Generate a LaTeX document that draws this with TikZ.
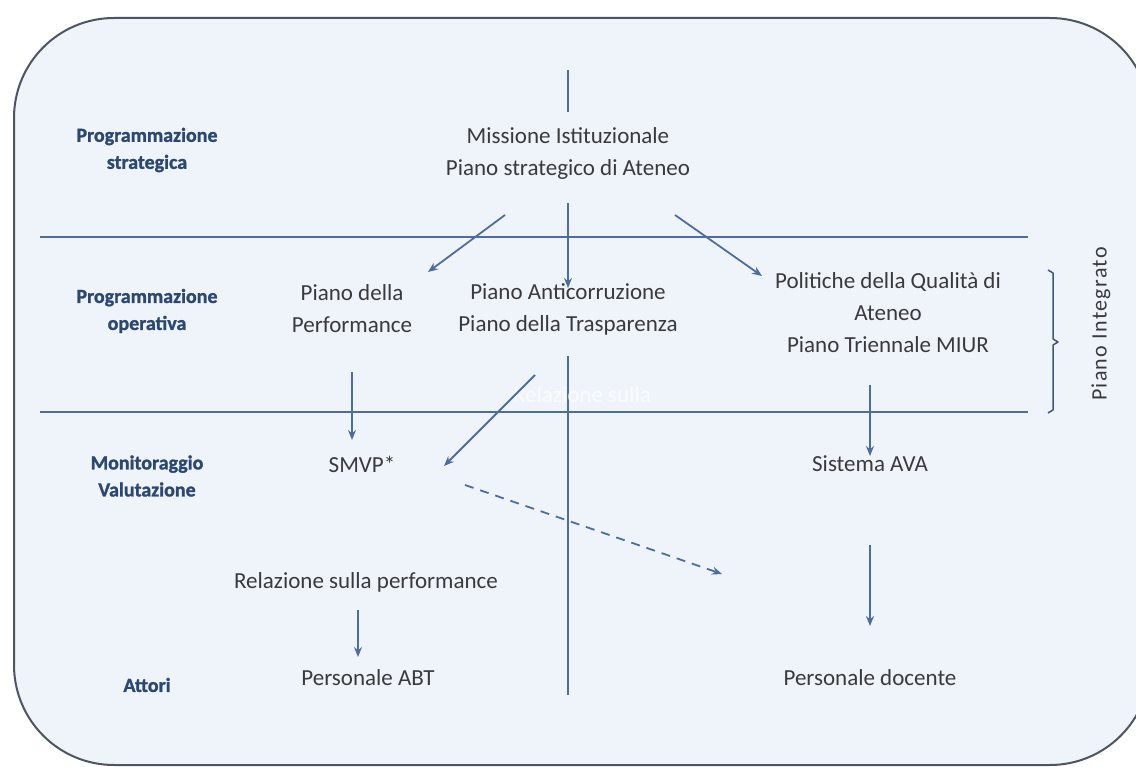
\documentclass[tikz,border=0pt]{standalone}
\usepackage{fontspec}
\setmainfont{Carlito}
\newfontfamily\spacedfont[LetterSpace=6]{Carlito}
\newfontfamily\lblfont[FakeBold=1.2]{Carlito}
\usetikzlibrary{arrows.meta}
\definecolor{framecol}{HTML}{4D5563}
\definecolor{bgfill}{HTML}{EFF4FB}
\definecolor{lineblue}{HTML}{4F6D9C}
\definecolor{txtcol}{HTML}{3A3A3A}
\definecolor{lblcol}{HTML}{2C4770}
\begin{document}
\begin{tikzpicture}[x=1pt,y=-1pt,
  txtnode/.style={text=txtcol, font=\fontsize{23}{32}\selectfont, align=center, inner sep=0pt},
  lblnode/.style={text=lblcol, font=\fontsize{20}{27}\lblfont\bfseries, align=center, inner sep=0pt},
  sepline/.style={draw=lineblue, line width=2pt},
  conn/.style={draw=lineblue, line width=1.8pt, -{Stealth[length=10pt,width=8pt]}},
  dconn/.style={conn, dash pattern=on 9pt off 7pt}
]
\useasboundingbox (0,0) rectangle (1136,767);
\fill[white] (0,0) rectangle (1136,767);
\begin{scope}
\clip (0,0) rectangle (1136,767);
\draw[draw=framecol, fill=bgfill, line width=2pt, rounded corners=100pt] (14,18) rectangle (1150,765);
\end{scope}

% separators
\draw[sepline] (40,237) -- (1028,237);
\draw[sepline] (40,412) -- (1028,412);
\draw[sepline] (568,70) -- (568,112);
\draw[sepline] (568,356) -- (568,695);

% row labels
\node[lblnode] (ls) at (147,150) {Programmazione\\strategica};
\node[lblnode] (lo) at (147,311) {Programmazione\\operativa};
\node[lblnode] (lm) at (147,476) {Monitoraggio\\Valutazione};
\node[lblnode] (la) at (147,685) {Attori};

% content
\node[txtnode] (mis) at (568,153) {Missione Istituzionale\\Piano strategico di Ateneo};
\node[txtnode] (perf) at (352,309) {Piano della\\Performance};
\node[txtnode] (anti) at (568,309) {Piano Anticorruzione\\Piano della Trasparenza};
\node[txtnode] (qual) at (888,313) {Politiche della Qualità di\\Ateneo\\Piano Triennale MIUR};
\node[txtnode] (smvp) at (362,464) {SMVP*};
\node[txtnode] (ava) at (870,464) {Sistema AVA};
\node[txtnode] (rel) at (366,582) {Relazione sulla performance};
\node[txtnode] (abt) at (368,678) {Personale ABT};
\node[txtnode] (doc) at (870,678) {Personale docente};
\node[text=txtcol, font=\fontsize{22}{26}\spacedfont, rotate=90, inner sep=0pt] (pint) at (1101,324) {Piano Integrato};
\node[text=white, opacity=0.7, font=\fontsize{23}{26}\selectfont, inner sep=0pt] (ghost) at (582,395) {Relazione sulla};

% connector end points
\coordinate (m1) at (505,215); \coordinate (p1) at (428,272);
\coordinate (m2) at (568,203); \coordinate (a1) at (568,288);
\coordinate (m3) at (675,215); \coordinate (q1) at (762,276);
\coordinate (p2) at (352,372); \coordinate (s1) at (352,440);
\coordinate (a2) at (535,375); \coordinate (s2) at (444,466);
\coordinate (q2) at (870,385); \coordinate (v1) at (870,456);
\coordinate (s3) at (465,485); \coordinate (d1) at (722,574);
\coordinate (r1) at (358,610); \coordinate (b1) at (358,657);
\coordinate (v2) at (870,545); \coordinate (d2) at (870,626);

\draw[conn] (m1) -- (p1);
\draw[conn] (m2) -- (a1);
\draw[conn] (m3) -- (q1);
\draw[conn] (p2) -- (s1);
\draw[conn] (a2) -- (s2);
\draw[conn] (q2) -- (v1);
\draw[dconn] (s3) -- (d1);
\draw[conn] (r1) -- (b1);
\draw[conn] (v2) -- (d2);

% brace
\draw[draw=lineblue!80!black, line width=1.5pt, line join=round]
  (1048,270) -- (1053,273) -- (1053,339) -- (1058,342) -- (1053,345) -- (1053,410) -- (1048,413);
\end{tikzpicture}
\end{document}
